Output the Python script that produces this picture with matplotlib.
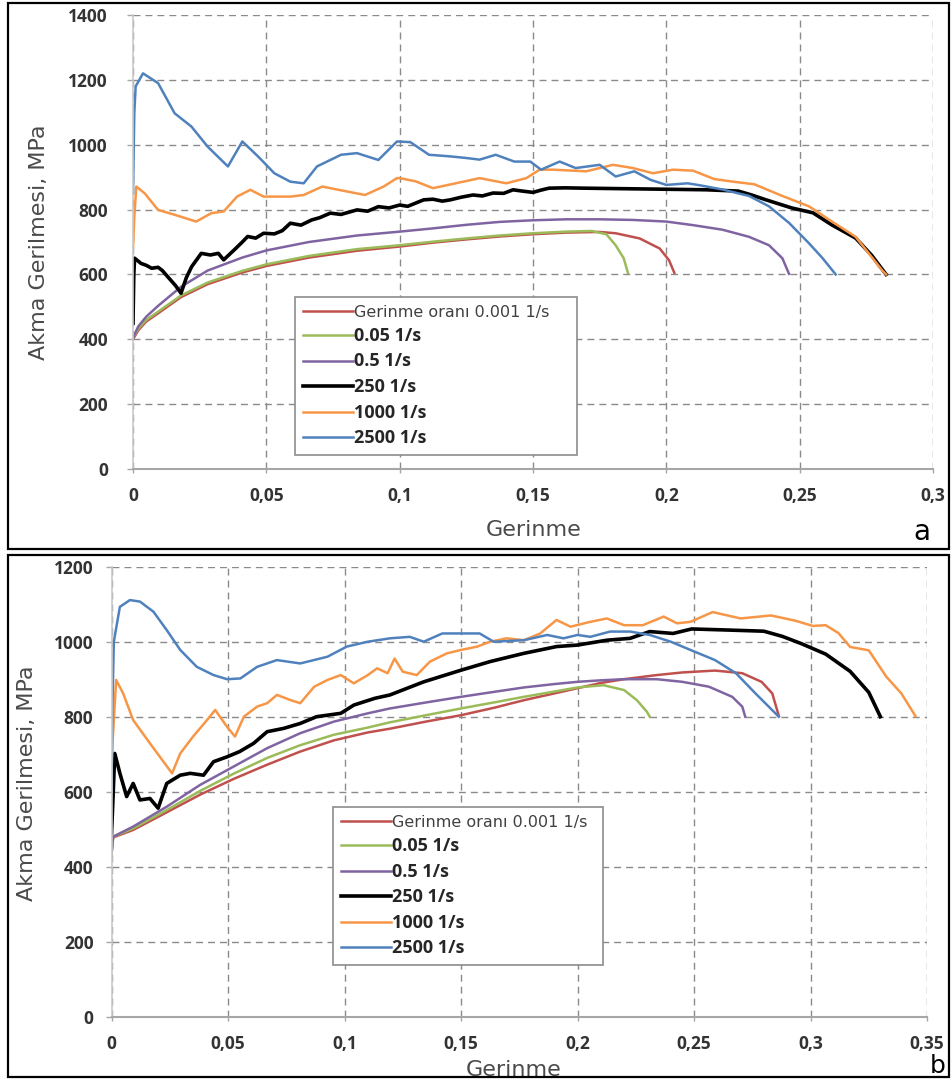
import matplotlib.pyplot as plt
from matplotlib.patches import Rectangle

# ---------------- panel a ----------------
a_red_x = [0, 0.002, 0.005, 0.0094, 0.018, 0.028, 0.041, 0.05, 0.066, 0.084, 0.1, 0.1125, 0.125,
           0.1375, 0.15, 0.1625, 0.175, 0.181, 0.19, 0.1975, 0.201, 0.203]
a_red_y = [400, 428, 455, 480, 530, 570, 606, 626, 652, 673, 686, 698, 708,
           717, 724, 729, 731, 727, 711, 680, 644, 605]

a_green_x = [0, 0.002, 0.005, 0.0094, 0.018, 0.028, 0.041, 0.05, 0.066, 0.084, 0.1, 0.1125, 0.125,
             0.1375, 0.15, 0.1625, 0.172, 0.1775, 0.181, 0.184, 0.1856]
a_green_y = [405, 433, 460, 485, 535, 575, 611, 631, 657, 678, 690, 701, 711,
             720, 727, 732, 734, 724, 690, 650, 605]

a_purple_x = [0, 0.002, 0.005, 0.0094, 0.018, 0.028, 0.041, 0.05, 0.066, 0.084, 0.1, 0.1125, 0.125,
              0.1375, 0.15, 0.1625, 0.175, 0.1875, 0.2, 0.21, 0.221, 0.231, 0.2385, 0.2435, 0.246]
a_purple_y = [405, 440, 470, 503, 562, 612, 652, 674, 700, 720, 732, 742, 753,
              762, 767, 770, 770, 768, 763, 752, 738, 716, 690, 650, 602]

a_black_x = [0, 0.0003, 0.0006, 0.003, 0.005, 0.007, 0.0094, 0.011, 0.013, 0.016, 0.018, 0.02, 0.022,
             0.0256, 0.029, 0.032, 0.034, 0.038, 0.041, 0.043, 0.046, 0.049, 0.053, 0.056, 0.059,
             0.063, 0.067, 0.07, 0.074, 0.078, 0.084, 0.088, 0.092, 0.096, 0.1, 0.103, 0.106, 0.109,
             0.1125, 0.116, 0.119, 0.123, 0.1275, 0.131, 0.135, 0.139, 0.1425, 0.146, 0.15, 0.153,
             0.156, 0.162, 0.169, 0.1875, 0.206, 0.215, 0.227, 0.232, 0.237, 0.247, 0.255, 0.262,
             0.271, 0.277, 0.2824]
a_black_y = [450, 600, 650, 634, 628, 619, 622, 612, 593, 565, 542, 590, 624,
             665, 660, 665, 645, 676, 700, 717, 712, 727, 725, 735, 758,
             752, 768, 775, 789, 785, 799, 795, 809, 805, 814, 810, 820, 830,
             832, 826, 830, 838, 845, 842, 851, 850, 861, 857, 853, 860,
             866, 867, 866, 864, 862, 861, 857, 845, 831, 805, 790, 753,
             712, 659, 600]

a_orange_x = [0, 0.0005, 0.00125, 0.0044, 0.0094, 0.0156, 0.0237, 0.0294, 0.034, 0.039, 0.044, 0.049,
              0.059, 0.064, 0.071, 0.077, 0.087, 0.094, 0.099, 0.1, 0.106, 0.1125, 0.121, 0.13, 0.14,
              0.1475, 0.1525, 0.1575, 0.17, 0.18, 0.1875, 0.195, 0.2025, 0.21, 0.218, 0.226, 0.233,
              0.2435, 0.2535, 0.261, 0.271, 0.281, 0.2824]
a_orange_y = [680, 780, 871, 850, 799, 784, 763, 789, 794, 840, 861, 840,
              840, 845, 871, 861, 845, 871, 897, 897, 887, 866, 881, 897, 881,
              897, 923, 923, 918, 938, 928, 912, 923, 920, 894, 885, 878,
              842, 810, 769, 716, 612, 600]

a_blue_x = [0, 0.0005, 0.001, 0.00375, 0.0094, 0.0156, 0.0219, 0.028, 0.0356, 0.041, 0.047, 0.053,
            0.059, 0.064, 0.069, 0.078, 0.084, 0.092, 0.099, 0.104, 0.111, 0.119, 0.125, 0.13,
            0.136, 0.143, 0.149, 0.153, 0.16, 0.166, 0.175, 0.181, 0.188, 0.194, 0.2, 0.208,
            0.2125, 0.221, 0.231, 0.2385, 0.246, 0.2535, 0.2586, 0.2635]
a_blue_y = [850, 1100, 1180, 1220, 1190, 1097, 1056, 994, 933, 1010, 963, 912,
            886, 881, 933, 969, 974, 953, 1010, 1008, 969, 964, 959, 954,
            969, 948, 948, 923, 948, 928, 938, 902, 918, 892, 876, 881,
            875, 862, 842, 810, 759, 696, 650, 600]

# ---------------- panel b ----------------
b_red_x = [0, 0.0007, 0.0093, 0.0237, 0.038, 0.0524, 0.0668, 0.081, 0.0955, 0.11, 0.1195, 0.135,
           0.15, 0.165, 0.177, 0.19, 0.2, 0.21, 0.22, 0.234, 0.245, 0.259, 0.2707, 0.279, 0.2836, 0.2864]
b_red_y = [430, 478, 498, 545, 592, 634, 672, 707, 737, 758, 768, 787,
           804, 825, 844, 862, 876, 890, 900, 911, 918, 923, 916, 893, 862, 802]

b_green_x = [0, 0.0007, 0.0093, 0.0237, 0.038, 0.0524, 0.0668, 0.081, 0.0955, 0.11, 0.1195, 0.135,
             0.15, 0.165, 0.177, 0.19, 0.2, 0.2112, 0.22, 0.2255, 0.2298, 0.231]
b_green_y = [435, 480, 502, 551, 602, 648, 690, 724, 752, 771, 785, 804,
             822, 839, 853, 867, 878, 884, 871, 844, 813, 800]

b_purple_x = [0, 0.0007, 0.0093, 0.0237, 0.038, 0.0524, 0.0668, 0.081, 0.0955, 0.11, 0.1195, 0.135,
              0.15, 0.165, 0.177, 0.19, 0.2, 0.21, 0.22, 0.234, 0.245, 0.2564, 0.2664, 0.2707, 0.272]
b_purple_y = [440, 480, 507, 560, 618, 667, 716, 756, 787, 809, 822, 838,
              853, 867, 878, 887, 893, 897, 900, 900, 893, 880, 853, 827, 800]

b_black_x = [0, 0.0005, 0.0014, 0.0036, 0.0065, 0.0093, 0.0122, 0.0165, 0.02, 0.0237, 0.0295, 0.0338,
             0.0395, 0.0438, 0.0496, 0.055, 0.061, 0.0668, 0.074, 0.081, 0.088, 0.0984, 0.104, 0.113,
             0.1195, 0.134, 0.15, 0.1625, 0.177, 0.191, 0.2, 0.2126, 0.2226, 0.231, 0.241, 0.249,
             0.265, 0.28, 0.288, 0.296, 0.3065, 0.317, 0.325, 0.33]
b_black_y = [490, 560, 702, 649, 587, 622, 578, 582, 556, 622, 644, 649,
             644, 680, 693, 707, 729, 760, 769, 782, 800, 809, 831, 849,
             858, 893, 924, 947, 969, 987, 991, 1004, 1009, 1027, 1022, 1034,
             1031, 1028, 1014, 995, 967, 921, 865, 800]

b_orange_x = [0, 0.0005, 0.002, 0.005, 0.0093, 0.0165, 0.026, 0.0295, 0.035, 0.041, 0.0445, 0.0496,
              0.053, 0.0568, 0.0625, 0.0668, 0.071, 0.077, 0.081, 0.087, 0.0927, 0.0984, 0.104, 0.11,
              0.114, 0.1185, 0.1215, 0.125, 0.131, 0.1367, 0.144, 0.15, 0.157, 0.1625, 0.1696, 0.177,
              0.184, 0.191, 0.197, 0.2055, 0.2126, 0.22, 0.228, 0.237, 0.2427, 0.2485, 0.258, 0.27,
              0.283, 0.2935, 0.301, 0.3065, 0.312, 0.317, 0.325, 0.3325, 0.339, 0.345]
b_orange_y = [650, 738, 898, 862, 791, 729, 649, 702, 747, 791, 818, 773,
              747, 800, 827, 836, 858, 844, 836, 880, 898, 911, 889, 911,
              929, 916, 955, 920, 911, 947, 969, 978, 987, 1000, 1009, 1004,
              1022, 1058, 1040, 1053, 1062, 1044, 1044, 1067, 1049, 1053, 1079, 1062,
              1070, 1056, 1042, 1044, 1023, 986, 977, 907, 862, 802]

b_blue_x = [0, 0.0003, 0.001, 0.0036, 0.0079, 0.0122, 0.018, 0.0237, 0.0295, 0.0366, 0.0438, 0.0496,
            0.0553, 0.0625, 0.071, 0.081, 0.0927, 0.101, 0.11, 0.1195, 0.128, 0.134, 0.142, 0.158,
            0.164, 0.177, 0.187, 0.194, 0.2, 0.2055, 0.214, 0.2226, 0.231, 0.24, 0.2485, 0.259,
            0.268, 0.2764, 0.2864]
b_blue_y = [600, 800, 1000, 1093, 1111, 1107, 1080, 1031, 978, 933, 911, 900,
            902, 933, 951, 942, 960, 987, 1000, 1009, 1013, 1000, 1022, 1022,
            1000, 1004, 1018, 1009, 1018, 1013, 1027, 1027, 1018, 1000, 978, 951,
            916, 862, 800]

rate_labels = ['Gerinme oranı 0.001 1/s', '0.05 1/s', '0.5 1/s', '250 1/s', '1000 1/s', '2500 1/s']
colors = ['#C0504D', '#9BBB59', '#8064A2', '#000000', '#F79646', '#4F81BD']
widths = [1.8, 1.8, 1.8, 2.6, 1.8, 1.8]

xticks_a = [0, 0.05, 0.1, 0.15, 0.2, 0.25, 0.3]
xlabels_a = ['0', '0,05', '0,1', '0,15', '0,2', '0,25', '0,3']
yticks_a = [0, 200, 400, 600, 800, 1000, 1200, 1400]
xticks_b = [0, 0.05, 0.1, 0.15, 0.2, 0.25, 0.3, 0.35]
xlabels_b = ['0', '0,05', '0,1', '0,15', '0,2', '0,25', '0,3', '0,35']
yticks_b = [0, 200, 400, 600, 800, 1000, 1200]

W, H = 951, 1084
fig = plt.figure(figsize=(W / 100, H / 100), dpi=100)


def px_axes(left, top, right, bottom):
    return fig.add_axes([left / W, 1 - bottom / H, (right - left) / W, (bottom - top) / H])


def draw_panel(ax, series, xticks, xlabels, yticks, leg_box, ytick_pad, ylab_pos, xlab_pos):
    for (x, y), lab, c, lw in zip(series, rate_labels, colors, widths):
        ax.plot(x, y, color=c, lw=lw, label=lab, solid_joinstyle='round')
    ax.set_xlim(xticks[0], xticks[-1])
    ax.set_ylim(yticks[0], yticks[-1])
    ax.set_xticks(xticks)
    ax.set_xticklabels(xlabels)
    ax.set_yticks(yticks)
    ax.grid(True, color='#8a8a8a', lw=1.0, linestyle=(0, (5, 3.6)))
    ax.set_axisbelow(True)
    for s in ['top', 'right']:
        ax.spines[s].set_visible(False)
    ax.spines['bottom'].set_color('#a6a6a6')
    ax.spines['bottom'].set_linewidth(1.5)
    ax.spines['left'].set_color('#c8c8c8')
    ax.spines['left'].set_linewidth(1.2)
    ax.tick_params(axis='x', length=3, width=1, color='#a6a6a6', pad=10)
    ax.tick_params(axis='y', length=4, width=1, color='#a6a6a6', pad=ytick_pad)
    for t in ax.get_xticklabels() + ax.get_yticklabels():
        t.set_fontfamily(['Open Sans', 'DejaVu Sans'])
        t.set_fontweight('bold')
        t.set_fontsize(12.5)
        t.set_color('#333333')

    ax.set_ylabel('Akma Gerilmesi, MPa', fontsize=16, color='#4a4a4a', family='DejaVu Sans')
    ax.yaxis.set_label_coords(*ylab_pos)
    ax.yaxis.label.set_va('center')
    ax.set_xlabel('Gerinme', fontsize=16, color='#4a4a4a', family='DejaVu Sans')
    ax.xaxis.set_label_coords(*xlab_pos)
    ax.xaxis.label.set_va('center')

    leg = ax.legend(loc='upper left', bbox_to_anchor=leg_box, mode='expand',
                    fontsize=12, handlelength=3.0, handletextpad=0.1, labelspacing=0.45,
                    borderpad=0.45, borderaxespad=0, fancybox=False, framealpha=1)
    leg.get_frame().set_edgecolor('#8c8c8c')
    leg.get_frame().set_linewidth(1.2)
    for i, t in enumerate(leg.get_texts()):
        if i == 0:
            t.set_fontfamily('DejaVu Sans')
            t.set_fontsize(11.5)
            t.set_color('#404040')
        else:
            t.set_fontfamily(['Open Sans', 'DejaVu Sans'])
            t.set_fontweight('bold')
            t.set_fontsize(13)
            t.set_color('#262626')


# panel a
ax1 = px_axes(133, 15, 933, 469)
draw_panel(ax1,
           [(a_red_x, a_red_y), (a_green_x, a_green_y), (a_purple_x, a_purple_y),
            (a_black_x, a_black_y), (a_orange_x, a_orange_y), (a_blue_x, a_blue_y)],
           xticks_a, xlabels_a, yticks_a,
           ((295 - 133) / 800, 0, 282 / 800, (469 - 297) / 454),
           14, (-0.1175, 0.5), (0.501, (469 - 530) / 454))

# panel b
ax2 = px_axes(111.5, 566.7, 927, 1016.7)
draw_panel(ax2,
           [(b_red_x, b_red_y), (b_green_x, b_green_y), (b_purple_x, b_purple_y),
            (b_black_x, b_black_y), (b_orange_x, b_orange_y), (b_blue_x, b_blue_y)],
           xticks_b, xlabels_b, yticks_b,
           ((333 - 111.5) / 815.5, 0, 270 / 815.5, (1016.7 - 807) / 450),
           9, (-0.1036, 0.519), (0.4936, (1016.7 - 1070) / 450))

# panel frames and letters
fig.patches.append(Rectangle((8 / W, 1 - 549 / H), 941 / W, 546 / H, transform=fig.transFigure,
                             fill=False, edgecolor='black', lw=1.6))
fig.patches.append(Rectangle((8 / W, 1 - 1077 / H), 941 / W, 522 / H, transform=fig.transFigure,
                             fill=False, edgecolor='black', lw=1.6))
fig.text(922 / W, 1 - 532 / H, 'a', fontsize=20, ha='center', va='center')
fig.text(938 / W, 1 - 1066 / H, 'b', fontsize=18, ha='center', va='center')

fig.savefig('out.png', dpi=100)
